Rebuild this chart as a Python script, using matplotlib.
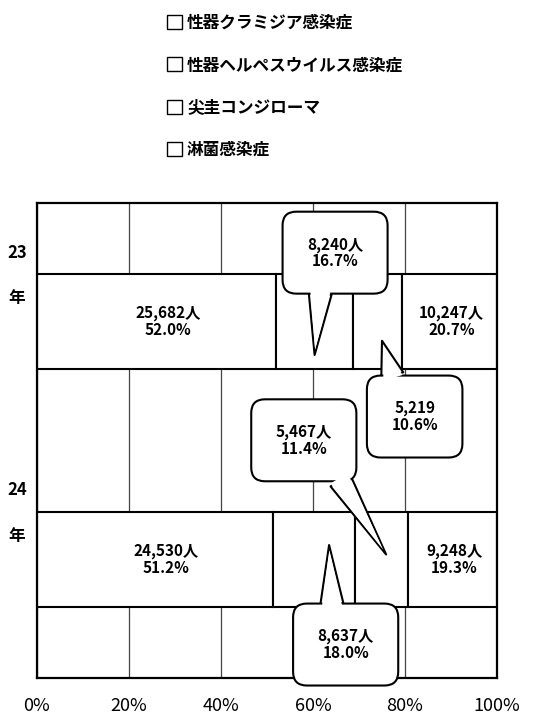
import matplotlib
matplotlib.use('Agg')
import matplotlib.pyplot as plt
import numpy as np

plt.rcParams['font.family'] = ['Noto Sans CJK JP', 'DejaVu Sans']

# データ
years = ['23', '24']
ypos = [1, 0]
series = ['性器クラミジア感染症', '性器ヘルペスウイルス感染症', '尖圭コンジローマ', '淋菌感染症']
pct = [[52.0, 51.2], [16.7, 18.0], [10.6, 11.4], [20.7, 19.3]]
labels = [['25,682人\n52.0%', '24,530人\n51.2%'],
          ['8,240人\n16.7%', '8,637人\n18.0%'],
          ['5,219\n10.6%', '5,467人\n11.4%'],
          ['10,247人\n20.7%', '9,248人\n19.3%']]
xticks = [0, 20, 40, 60, 80, 100]

# 吹き出し (系列, 年, 先端dx, 先端dy, 文字x, 文字y, 付け根relpos)
callouts = [(1, 0, 0.0, -0.14, 64.8, 1.29, (0.30, 0.5)),
            (2, 0, 1.0, -0.08, 82.1, 0.60, (0.28, 0.5)),
            (2, 1, 1.0, 0.02, 58.0, 0.50, (0.71, 0.5)),
            (1, 1, 3.3, 0.06, 67.1, -0.36, (0.29, 0.5))]

fig = plt.figure(figsize=(5.48, 7.16), dpi=100)
ax = fig.add_axes([37/548, 1-678/716, 460/548, 475/716])

left = np.zeros(2)
bars = []
for i in range(4):
    b = ax.barh(ypos, pct[i], left=left, height=0.4, color='white',
                edgecolor='black', linewidth=1.5, label=series[i], zorder=2)
    bars.append(b)
    if i in (0, 3):
        for j in range(2):
            dx = 2.5 if i == 0 else 0.5
            ax.text(left[j] + pct[i][j]/2 + dx, ypos[j], labels[i][j], ha='center', va='center',
                    fontsize=11, fontweight='bold', linespacing=1.05, zorder=5)
    left = left + np.array(pct[i])

fs = 11
for (s, j, tdx, tdy, tx, ty, rp) in callouts:
    lft = sum(pct[k][j] for k in range(s))
    tip = (lft + pct[s][j]/2 + tdx, ypos[j] + tdy)
    # 外枠付きのくさび
    ax.annotate(labels[s][j], xy=tip, xytext=(tx, ty), ha='center', va='center', color='none',
                fontsize=fs, fontweight='bold', linespacing=1.05, zorder=5,
                bbox=dict(boxstyle='round,pad=1.6', fc='none', ec='none'),
                arrowprops=dict(arrowstyle='wedge,tail_width=1.5,shrink_factor=0.5', fc='white',
                                ec='black', lw=1.5, shrinkA=0, shrinkB=0, relpos=rp))
    # 吹き出し本体
    ax.text(tx, ty, labels[s][j], ha='center', va='center', fontsize=fs, fontweight='bold',
            linespacing=1.05, zorder=6,
            bbox=dict(boxstyle='round,pad=1.6,rounding_size=0.9', fc='white', ec='black', lw=1.5))
    # 付け根の線を消す
    ax.annotate(labels[s][j], xy=tip, xytext=(tx, ty), ha='center', va='center', color='none',
                fontsize=fs, fontweight='bold', linespacing=1.05, zorder=7,
                bbox=dict(boxstyle='round,pad=1.45', fc='none', ec='none'),
                arrowprops=dict(arrowstyle='wedge,tail_width=1.32,shrink_factor=0.5', fc='white',
                                ec='none', lw=0, shrinkA=0, shrinkB=4, relpos=rp))

ax.set_xlim(0, 100)
ax.set_ylim(-0.5, 1.5)
ax.set_xticks(xticks)
ax.set_xticklabels([f'{v}%' for v in xticks], fontsize=13)
ax.tick_params(axis='x', length=0, pad=14)
ax.set_yticks([])
ax.xaxis.grid(True, color='#444444', linewidth=0.9)
ax.set_axisbelow(True)
for sp in ax.spines.values():
    sp.set_linewidth(1.6)

trans = ax.get_yaxis_transform()
for y, yr in zip(ypos, years):
    ax.text(-0.044, y + 0.29, yr, transform=trans, ha='center', va='center',
            fontsize=12, fontweight='bold')
    ax.text(-0.044, y + 0.10, '年', transform=trans, ha='center', va='center',
            fontsize=12, fontweight='bold')

leg = fig.legend(handles=bars, labels=series, loc='upper left', bbox_to_anchor=(167/548, 1-14/716),
                 frameon=False, borderpad=0, borderaxespad=0, handlelength=0.9, handleheight=0.9,
                 handletextpad=0.3, labelspacing=1.45, prop={'size': 12, 'weight': 'bold'})
for h in leg.legend_handles:
    h.set_linewidth(1.0)

fig.savefig('out.png', dpi=100)
